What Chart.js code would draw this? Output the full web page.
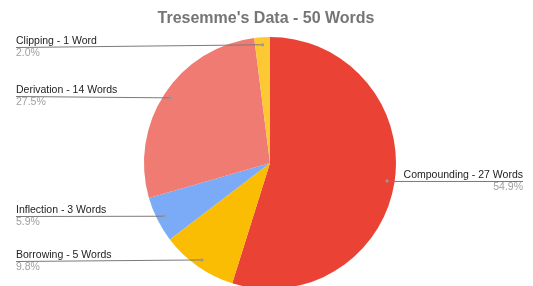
<!DOCTYPE html>
<html>
<head>
<meta charset="utf-8">
<script src="https://cdn.jsdelivr.net/npm/chart.js@4/dist/chart.umd.min.js"></script>
<style>
  html, body { margin: 0; padding: 0; background: #fff; overflow: hidden; }
  #wrap { width: 533px; height: 300px; }
</style>
</head>
<body>
<div id="wrap"><canvas id="wordChart" width="533" height="300"></canvas></div>
<script>
  // -----   DATA   ----- //
  var categories = ['Compounding', 'Borrowing', 'Inflection', 'Derivation', 'Clipping'];
  var wordCounts = [27, 5, 3, 14, 1];
  var percentLabels = ['54.9%', '9.8%', '5.9%', '27.5%', '2.0%'];
  var sliceShares = [54.9, 9.8, 5.9, 27.5, 2.0];
  var sliceColors = ['#ea4335', '#fbbc04', '#7baaf7', '#f07b72', '#fcc934'];

  // where each label sits (side of chart + y of its underline)
  var labelLayout = [
    { side: 'right', y: 181 },
    { side: 'left', y: 261 },
    { side: 'left', y: 216 },
    { side: 'left', y: 96 },
    { side: 'left', y: 47 }
  ];

  var FONT = '"Liberation Sans", Arial, sans-serif';

  // draws title, leader lines and the labels
  var calloutPlugin = {
    id: 'callouts',
    afterDraw: function(chart) {
      var c = chart.ctx;
      c.save();
      c.fillStyle = '#757575';
      c.font = 'bold 16px ' + FONT;
      c.textAlign = 'center';
      c.textBaseline = 'alphabetic';
      c.fillText("Tresemme's Data - 50 Words", 266, 23);

      var arcs = chart.getDatasetMeta(0).data;
      arcs.forEach(function(arc, i) {
        var p = arc.getProps(['x', 'y', 'startAngle', 'endAngle', 'outerRadius'], true);
        var mid = (p.startAngle + p.endAngle) / 2;
        var px = p.x + Math.cos(mid) * p.outerRadius * 0.94;
        var py = p.y + Math.sin(mid) * p.outerRadius * 0.94;
        var lay = labelLayout[i];
        var name = categories[i] + ' - ' + wordCounts[i] + (wordCounts[i] === 1 ? ' Word' : ' Words');

        c.strokeStyle = '#7a7a7a';
        c.lineWidth = 1;
        c.beginPath();
        if (lay.side === 'left') {
          c.moveTo(16, lay.y + 0.5);
          c.lineTo(px, py);
        } else {
          c.moveTo(px, py + 0.5);
          c.lineTo(523, lay.y + 0.5);
        }
        c.stroke();

        c.fillStyle = '#9a9a9a';
        c.beginPath();
        c.arc(px, py, 1.6, 0, Math.PI * 2);
        c.fill();

        c.font = '10.5px ' + FONT;
        c.textAlign = lay.side === 'left' ? 'left' : 'right';
        var tx = lay.side === 'left' ? 16 : 523;
        c.fillStyle = '#222222';
        c.fillText(name, tx, lay.y - 3);
        c.fillStyle = '#a0a0a0';
        c.fillText(percentLabels[i], tx, lay.y + 9);
      });
      c.restore();
    }
  };

  var ctx = document.getElementById('wordChart').getContext('2d');
  var wordChart = new Chart(ctx, {
    type: 'pie',
    data: {
      labels: categories,
      datasets: [{
        data: sliceShares,
        backgroundColor: sliceColors,
        borderWidth: 0
      }]
    },
    options: {
      responsive: false,
      animation: false,
      devicePixelRatio: 1,
      layout: { padding: { top: 37, bottom: 11, left: 144, right: 137 } },
      plugins: {
        legend: { display: false },
        title: { display: false },
        tooltip: { enabled: false }
      }
    },
    plugins: [calloutPlugin]
  });
</script>
</body>
</html>
